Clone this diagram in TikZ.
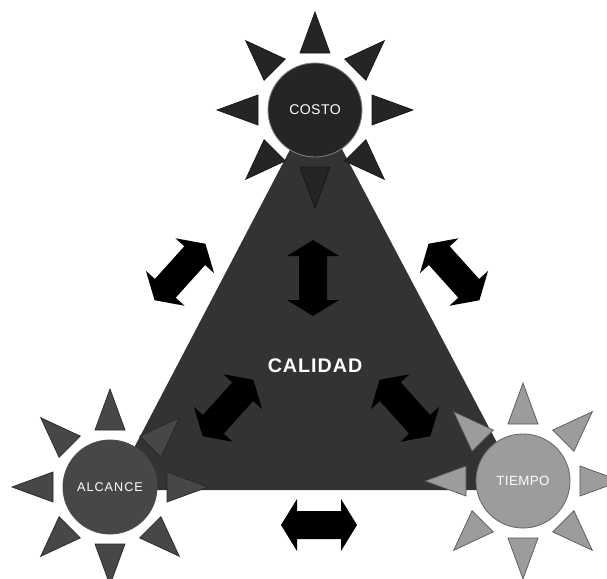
\documentclass[tikz,border=0pt]{standalone}
\usepackage{fontspec}
\setmainfont{Liberation Sans}
\usetikzlibrary{calc}

\definecolor{costogray}{HTML}{252525}
\definecolor{alcancegray}{HTML}{474747}
\definecolor{tiempogray}{HTML}{9C9C9C}
\definecolor{trianglegray}{HTML}{333333}

\tikzset{
  sun/.style={circle, minimum size=2.35cm, inner sep=0pt, text=white, line width=0.6pt},
  spike/.style={line width=0.5pt, line join=miter},
  dblarrow/.pic={
    \fill[black] (-38,0) -- (-22,-26) -- (-22,-14) -- (22,-14) -- (22,-26)
      -- (38,0) -- (22,26) -- (22,14) -- (-22,14) -- (-22,26) -- cycle;
  }
}

\begin{document}
\begin{tikzpicture}[x=0.025cm, y=-0.025cm]
    \useasboundingbox (0,0) rectangle (607,579);
    % corners of the triangle and centres of the three suns
    \coordinate (top) at (316,100);
    \coordinate (left) at (112,490);
    \coordinate (right) at (522,490);
    \coordinate (pc) at (315,110);
    \coordinate (pa) at (110,487);
    \coordinate (pt) at (523,481);

    \fill [trianglegray] (top) -- (left) -- (right) -- cycle;

    \foreach \c/\col in {pc/costogray, pa/alcancegray, pt/tiempogray}
      \foreach \a in {0,45,...,315}
        \filldraw [spike, fill=\col, draw=\col!55!black]
          ($(\c)+(\a:57)+(\a+90:15)$) -- ($(\c)+(\a:98)$) -- ($(\c)+(\a:57)+(\a-90:15)$) -- cycle;

    \node [sun, fill=costogray, draw=gray] (costo) at (pc) {\fontsize{10}{12}\selectfont\addfontfeature{LetterSpace=3}COSTO};
    \node [sun, fill=alcancegray, draw=black!70] (alcance) at (pa) {\fontsize{9}{11}\selectfont\addfontfeature{LetterSpace=8}ALCANCE};
    \node [sun, fill=tiempogray, draw=black!60] (tiempo) at (pt) {\fontsize{9.5}{11}\selectfont\addfontfeature{LetterSpace=3}TIEMPO};

    \node [text=white, font=\bfseries\fontsize{14}{16}\selectfont] (calidad) at (315,366) {\addfontfeature{LetterSpace=5}CALIDAD};

    \pic [rotate=90] (arrtop) at (313,278) {dblarrow};
    \pic (arrbottom) at (319,525) {dblarrow};
    \pic [rotate=48] (arrleft) at (180,272) {dblarrow};
    \pic [rotate=-48] (arrright) at (454,272) {dblarrow};
    \pic [rotate=48] (arrinleft) at (228,408) {dblarrow};
    \pic [rotate=-48] (arrinright) at (405,408) {dblarrow};
  \end{tikzpicture}
\end{document}
